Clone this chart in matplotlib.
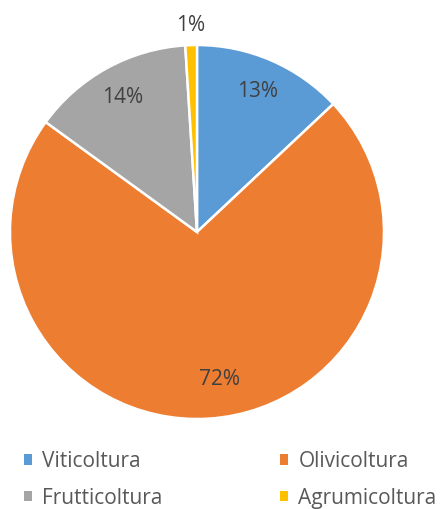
import matplotlib.pyplot as plt
from matplotlib.patches import Patch

plt.rcParams['font.family'] = ['Open Sans', 'DejaVu Sans']

# Ripartizione delle colture
colture = ['Viticoltura', 'Olivicoltura', 'Frutticoltura', 'Agrumicoltura']
quote = [13, 72, 14, 1]
colori = ['#5B9BD5', '#ED7D31', '#A5A5A5', '#FFC000']

fig = plt.figure(figsize=(4.4, 5.09), dpi=100)
ax = fig.add_axes([0.0227, 0.1768, 0.85, 0.7348])

wedges, testi, perc = ax.pie(
    quote, colors=colori, startangle=90, counterclock=False,
    autopct='%1.0f%%', pctdistance=0.82,
    wedgeprops=dict(edgecolor='white', linewidth=1.8),
    textprops=dict(color='#404040', fontsize=15),
)
ax.set_xlim(-1, 1)
ax.set_ylim(-1, 1)
ax.set_aspect('equal')

# etichetta del 1% fuori dalla fetta
x, y = perc[3].get_position()
perc[3].set_position((x * 1.35, y * 1.35))
# Excel sposta un po' l'etichetta grande
x, y = perc[1].get_position()
perc[1].set_position((x + 0.07, y + 0.03))

# legenda per righe: ordine a colonne per ncol=2
ordine = [0, 2, 1, 3]
maniglie = [Patch(facecolor=colori[i], edgecolor='none') for i in ordine]
fig.legend(maniglie, [colture[i] for i in ordine], ncol=2, loc='upper left',
           bbox_to_anchor=(0.035, 0.13), frameon=False,
           fontsize=15, labelcolor='#595959',
           handlelength=0.4, handleheight=0.4, handletextpad=0.5,
           columnspacing=5.6, labelspacing=0.74, borderaxespad=0)

fig.savefig('out.png', dpi=100)
